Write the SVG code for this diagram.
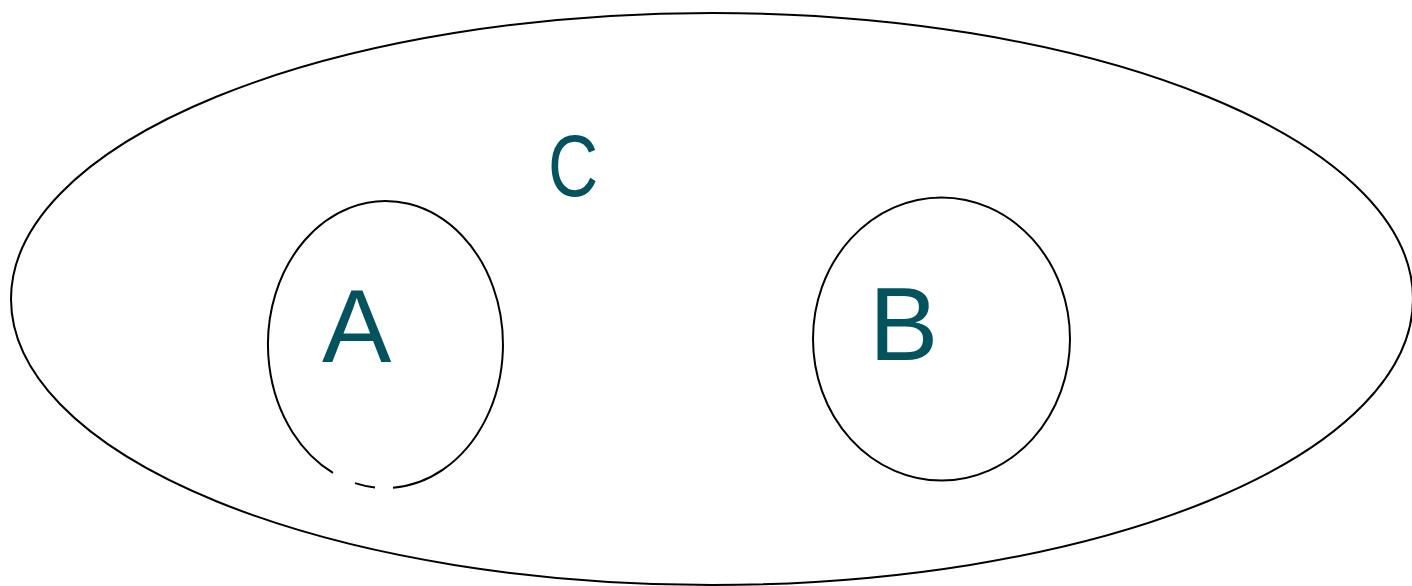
<svg xmlns="http://www.w3.org/2000/svg" width="1412" height="586" viewBox="0 0 1412 586">
  <style>
    .shape { fill: none; stroke: #000000; stroke-width: 2; }
    .label { font-family: "Liberation Sans", Arial, sans-serif; fill: #03535F; }
  </style>
  <rect width="1412" height="586" fill="#ffffff"/>
  <g id="node-C">
    <ellipse class="shape" cx="712" cy="299" rx="701" ry="286"/>
    <text class="label" font-size="88" transform="translate(548,196) scale(0.79,1)">C</text>
  </g>
  <g id="node-A">
    <path class="shape" d="M393,487.7 A117.5,143.5 0 1 0 333,472.9 M355,483.1 A117.5,143.5 0 0 0 375,487.4"/>
    <text class="label" x="322" y="362" font-size="104">A</text>
  </g>
  <g id="node-B">
    <ellipse class="shape" cx="941.5" cy="339" rx="128.5" ry="141.5"/>
    <text class="label" x="869" y="360" font-size="104">B</text>
  </g>
  <g id="connectors"></g>
</svg>
